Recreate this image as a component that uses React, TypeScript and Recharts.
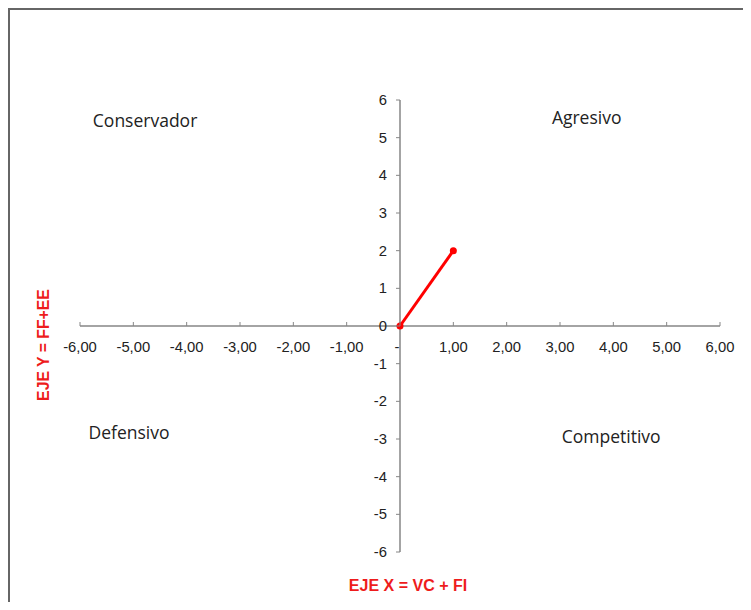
import { LineChart, Line, XAxis, YAxis, ReferenceLine, ReferenceDot } from "recharts";

// axis ticks
const xTicks = [-6, -5, -4, -3, -2, -1, 0, 1, 2, 3, 4, 5, 6];
const yTicks = [-6, -5, -4, -3, -2, -1, 0, 1, 2, 3, 4, 5, 6];

// the single plotted segment (VC + FI, FF + EE)
const pointX = [0, 1];
const pointY = [0, 2];

// quadrant captions, placed in data units
const quadrantNames = ["Conservador", "Agresivo", "Defensivo", "Competitivo"];
const quadrantX = [-4.78, 3.5, -5.08, 3.96];
const quadrantY = [5.47, 5.55, -2.81, -2.92];

const xTitle = "EJE X = VC + FI";
const yTitle = "EJE Y = FF+EE";

const CHART_W = 741;
const CHART_H = 592;
const MARGIN = { top: 90, right: 31, bottom: 49, left: 69 };
const AXIS_SIZE = 1;
const PLOT_W = CHART_W - MARGIN.left - MARGIN.right - AXIS_SIZE;
const PLOT_H = CHART_H - MARGIN.top - MARGIN.bottom - AXIS_SIZE;

const AXIS_COLOR = "#868686";
const TICK_FONT = "'Liberation Sans', Arial, sans-serif";

const lineData = pointX.map((x, i) => ({ x, y: pointY[i] }));

// x ticks are drawn on the y=0 line instead of the plot bottom
function XTick({ x, y, payload }: any) {
  const y0 = y - PLOT_H / 2;
  const v = payload.value as number;
  const label = v === 0 ? "-" : v.toFixed(2).replace(".", ",");
  return (
    <g>
      <line x1={x} x2={x} y1={y0 - 4} y2={y0} stroke={AXIS_COLOR} strokeWidth={1} />
      <text x={v === 0 ? x - 3 : x} y={y0 + 26} textAnchor="middle" fontSize={14.8} fontFamily={TICK_FONT} fill="#222">
        {label}
      </text>
    </g>
  );
}

// y ticks are drawn on the x=0 line instead of the plot left edge
function YTick({ x, y, payload }: any) {
  const x0 = x + PLOT_W / 2;
  return (
    <g>
      <line x1={x0 - 4} x2={x0} y1={y} y2={y} stroke={AXIS_COLOR} strokeWidth={1} />
      <text x={x0 - 13} y={y + 5} textAnchor="end" fontSize={14.8} fontFamily={TICK_FONT} fill="#222">
        {payload.value}
      </text>
    </g>
  );
}

function YTitle({ viewBox }: any) {
  const cx = viewBox.x - 36;
  const cy = viewBox.y + viewBox.height / 2 + 19;
  return (
    <text
      x={cx}
      y={cy}
      transform={`rotate(-90 ${cx} ${cy})`}
      textAnchor="middle"
      dominantBaseline="central"
      fontSize={15.8}
      fontWeight="bold"
      fontFamily={TICK_FONT}
      fill="#ee1c1c"
    >
      {yTitle}
    </text>
  );
}

function XTitle({ viewBox }: any) {
  const cx = viewBox.x + viewBox.width / 2 + 8;
  const cy = viewBox.y + 33;
  return (
    <text x={cx} y={cy} textAnchor="middle" dominantBaseline="central" fontSize={16} fontWeight="bold" fontFamily={TICK_FONT} fill="#ee1c1c">
      {xTitle}
    </text>
  );
}

function QuadrantLabel({ viewBox, value }: any) {
  return (
    <text
      x={viewBox.x + (viewBox.width || 0) / 2}
      y={viewBox.y + (viewBox.height || 0) / 2}
      textAnchor="middle"
      dominantBaseline="central"
      fontSize={17.5}
      fontFamily="'Open Sans', 'Noto Sans', sans-serif"
      fill="#222"
    >
      {value}
    </text>
  );
}

export default function App() {
  return (
    <div
      style={{
        width: 743,
        height: 594,
        boxSizing: "border-box",
        borderTop: "2px solid #666",
        borderLeft: "2px solid #666",
        background: "#fff",
        overflow: "hidden",
      }}
    >
      <LineChart width={CHART_W} height={CHART_H} data={lineData} margin={MARGIN}>
        <XAxis
          type="number"
          dataKey="x"
          domain={[-6, 6]}
          ticks={xTicks}
          interval={0}
          height={AXIS_SIZE}
          axisLine={false}
          tickLine={false}
          tickSize={0}
          tickMargin={0}
          tick={(p: any) => <XTick {...p} />}
          label={(p: any) => <XTitle {...p} />}
        />
        <YAxis
          type="number"
          domain={[-6, 6]}
          ticks={yTicks}
          interval={0}
          width={AXIS_SIZE}
          axisLine={false}
          tickLine={false}
          tickSize={0}
          tickMargin={0}
          tick={(p: any) => <YTick {...p} />}
          label={(p: any) => <YTitle {...p} />}
        />
        <ReferenceLine y={0} stroke={AXIS_COLOR} strokeWidth={1.5} />
        <ReferenceLine x={0} stroke={AXIS_COLOR} strokeWidth={1.5} />
        {quadrantNames.map((name, i) => (
          <ReferenceDot
            key={name}
            x={quadrantX[i]}
            y={quadrantY[i]}
            r={0}
            stroke="none"
            fill="none"
            label={(p: any) => <QuadrantLabel {...p} value={name} />}
          />
        ))}
        <Line
          type="linear"
          dataKey="y"
          stroke="#ff0000"
          strokeWidth={3}
          dot={{ r: 3.5, fill: "#ff0000", stroke: "none" }}
          activeDot={false}
          isAnimationActive={false}
        />
      </LineChart>
    </div>
  );
}
